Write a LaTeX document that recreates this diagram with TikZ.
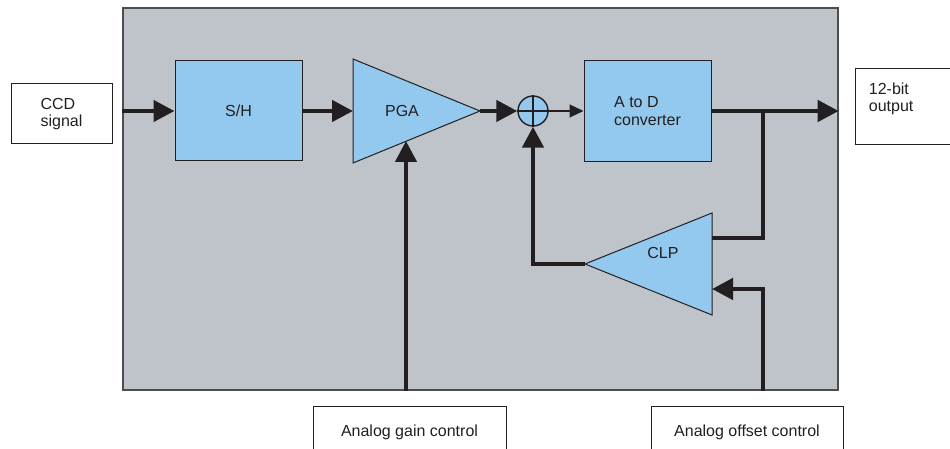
\documentclass[tikz,border=0pt]{standalone}
\usepackage{fontspec}
\setmainfont{Liberation Sans}
\usepackage{tikz}
\usetikzlibrary{arrows.meta}
\usepackage{xcolor}
\definecolor{chipgray}{RGB}{191,195,202}
\definecolor{blockblue}{RGB}{147,201,238}
\definecolor{ink}{RGB}{35,31,32}
\tikzset{
  blk/.style={draw=ink, fill=blockblue, line width=0.5pt, text=ink},
  ext/.style={draw=ink, fill=white, line width=0.5pt, text=ink, align=left},
  sig/.style={draw=ink, line width=2.25pt, -{Triangle[length=10.5pt,width=10.5pt]}},
  wire/.style={draw=ink, line width=2.25pt},
  fine/.style={draw=ink, line width=0.6pt, -{Triangle[length=7pt,width=6.5pt]}}
}

\begin{document}
\begin{tikzpicture}[x=0.5pt, y=0.5pt, font=\fontsize{8}{8.6}\selectfont]
  \clip (0,0) rectangle (950,449);
  \fill[white] (0,0) rectangle (950,449);
  \node[draw=ink!80, fill=chipgray, line width=0.7pt, minimum width=357.5pt, minimum height=191pt] (chip) at (480.5,250) {};

  % outside boxes
  \node[ext, minimum width=50.5pt, minimum height=30pt] (ccd) at (61.5,335) {CCD\\signal};
  \node[ext, minimum width=72.5pt, minimum height=38pt,
        label={[anchor=north west, inner sep=7pt, align=left, text=ink]north west:12-bit\\output}] (out) at (927.5,342) {};
  \node[ext, minimum width=96.5pt, minimum height=25pt] (gain) at (409.5,17) {Analog gain control};
  \node[ext, minimum width=96pt, minimum height=25pt] (offset) at (747,17) {Analog offset control};

  % blocks
  \node[blk, minimum width=63.5pt, minimum height=50pt] (sh) at (238.5,338) {S/H};
  \node[blk, minimum width=63.5pt, minimum height=50.5pt, align=left] (adc) at (647.5,338) {A to D\\converter};
  \draw[blk] (353,390) coordinate (pgatop) -- (480,338) coordinate (pgaout) -- (353,286) -- cycle;
  \node[text=ink] (pga) at (402,338) {PGA};
  \draw[blk] (712,236) -- (585,185) coordinate (clpout) -- (712,134) -- cycle;
  \node[text=ink] (clp) at (663,196) {CLP};
  \node[circle, draw=ink, fill=blockblue, line width=0.7pt, minimum size=15pt, inner sep=0pt] (sum) at (533,338) {};
  \draw[draw=ink, line width=0.6pt] (sum.north) -- (sum.south) (sum.west) -- (sum.east);

  % signal path
  \coordinate (pgain) at (353,338);
  \coordinate (gainin) at (406,308);
  \coordinate (tap) at (763,338);
  \coordinate (clpfb) at (712,211);
  \coordinate (clpoff) at (712,160);
  \draw[sig] (chip.west |- sh) -- (sh.west);
  \draw[sig] (sh.east) -- (pgain);
  \draw[sig] (pgaout) -- (sum.west);
  \draw[fine] (sum.east) -- (adc.west);
  \draw[sig] (adc.east) -- (chip.east |- adc);
  \draw[wire] (tap) -- (tap |- clpfb) -- (clpfb);
  \draw[sig] (clpout) -- (clpout -| sum) -- (sum.south);
  \draw[sig] (gainin |- chip.south) -- (gainin);
  \draw[sig] (tap |- chip.south) -- (tap |- clpoff) -- (clpoff);
\end{tikzpicture}
\end{document}
